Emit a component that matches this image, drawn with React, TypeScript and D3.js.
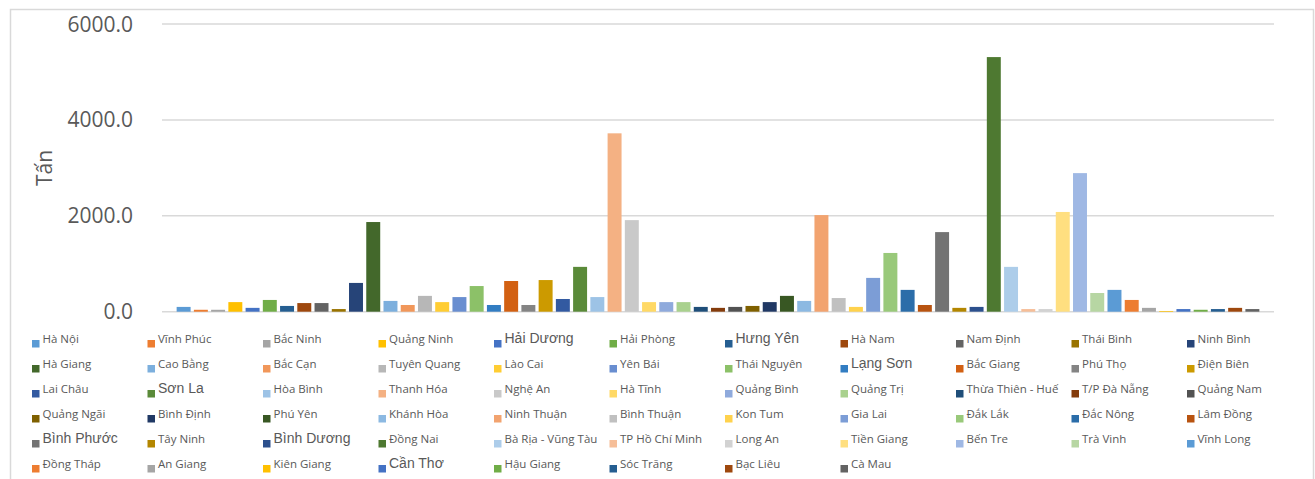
import React from "react";
import * as d3 from "d3";

const provinces: string[] = [
  "Hà Nội", "Vĩnh Phúc", "Bắc Ninh", "Quảng Ninh", "Hải Dương", "Hải Phòng", "Hưng Yên", "Hà Nam", "Nam Định", "Thái Bình", "Ninh Bình",
  "Hà Giang", "Cao Bằng", "Bắc Cạn", "Tuyên Quang", "Lào Cai", "Yên Bái", "Thái Nguyên", "Lạng Sơn", "Bắc Giang", "Phú Thọ", "Điện Biên",
  "Lai Châu", "Sơn La", "Hòa Bình", "Thanh Hóa", "Nghệ An", "Hà Tĩnh", "Quảng Bình", "Quảng Trị", "Thừa Thiên - Huế", "T/P Đà Nẵng", "Quảng Nam",
  "Quảng Ngãi", "Bình Định", "Phú Yên", "Khánh Hòa", "Ninh Thuận", "Bình Thuận", "Kon Tum", "Gia Lai", "Đắk Lắk", "Đắc Nông", "Lâm Đồng",
  "Bình Phước", "Tây Ninh", "Bình Dương", "Đồng Nai", "Bà Rịa - Vũng Tàu", "TP Hồ Chí Minh", "Long An", "Tiền Giang", "Bến Tre", "Trà Vinh", "Vĩnh Long",
  "Đồng Tháp", "An Giang", "Kiên Giang", "Cần Thơ", "Hậu Giang", "Sóc Trăng", "Bạc Liêu", "Cà Mau",
];

const values: number[] = [
  100, 40, 40, 200, 80, 245, 120, 180, 180, 55, 600,
  1870, 225, 140, 330, 200, 305, 535, 140, 640, 140, 660,
  265, 935, 305, 3720, 1910, 200, 200, 200, 100, 80, 100,
  120, 200, 330, 225, 2015, 285, 100, 705, 1225, 455, 140,
  1660, 80, 100, 5310, 935, 55, 55, 2080, 2890, 390, 455,
  245, 80, 15, 55, 40, 55, 80, 55,
];

const colors: string[] = [
  "#5B9BD5", "#ED7D31", "#A5A5A5", "#FFC000", "#4472C4", "#70AD47",
  "#255E91", "#9E480E", "#636363", "#997300", "#264478", "#43682B",
  "#7CAFDD", "#F1975A", "#B7B7B7", "#FFCD33", "#698ED0", "#8CC168",
  "#327DC2", "#D26012", "#848484", "#CC9A00", "#335AA1", "#5A8A39",
  "#9DC3E6", "#F4B183", "#C9C9C9", "#FFD966", "#8FAADC", "#A9D18E",
  "#1F4E79", "#843C0C", "#525252", "#7F6000", "#203864", "#385723",
  "#8CB9E2", "#F2A36F", "#C0C0C0", "#FFD24D", "#7C9DD6", "#99C97A",
  "#2B6DA9", "#B85310", "#737373", "#B38600", "#2C508D", "#4E7931",
  "#ADCDEA", "#F6BE98", "#D2D2D2", "#FFDF80", "#9FB8E4", "#B7D6A3",
  "#5B9BD5", "#ED7D31", "#A5A5A5", "#FFC000", "#4472C4", "#70AD47",
  "#255E91", "#9E480E", "#636363",
];

const largeLabels: string[] = ["Hải Dương", "Hưng Yên", "Lạng Sơn", "Sơn La", "Bình Phước", "Bình Dương", "Cần Thơ"];

const yTicks: number[] = [0, 2000, 4000, 6000];

export default function App() {
  const W = 1315;
  const H = 479;
  const plotL = 162;
  const plotR = 1274;
  const y = d3.scaleLinear().domain([0, 6000]).range([311.7, 24]);
  const x = d3
    .scaleBand<string>()
    .domain(provinces)
    .range([plotL + 13, plotR - 13])
    .paddingInner(0.19)
    .paddingOuter(0.095);

  const legendCols = 11;
  const legendX0 = 32;
  const legendDX = 115.5;
  const legendY0 = 342.7;
  const legendDY = 25;

  return (
    <svg width={W} height={H} style={{ position: "absolute", left: 0, top: 0 }} fontFamily="'Open Sans', sans-serif">
      <rect x={0} y={0} width={W} height={H} fill="#fff" />
      <rect x={10.5} y={9.5} width={1303} height={500} fill="none" stroke="#D9D9D9" strokeWidth={1.5} />
      {yTicks.map((t) => (
        <g key={t}>
          <line x1={plotL} x2={plotR} y1={y(t)} y2={y(t)} stroke="#D9D9D9" strokeWidth={1.5} />
          <text x={133} y={y(t)} dy="0.36em" textAnchor="end" fontSize={21} fill="#595959">
            {d3.format(".1f")(t)}
          </text>
        </g>
      ))}
      <text transform={`translate(52,168) rotate(-90)`} textAnchor="middle" fontSize={21} fill="#595959">
        Tấn
      </text>
      {provinces.map((p, i) => (
        <rect key={p} x={x(p)} y={y(values[i])} width={x.bandwidth()} height={y(0) - y(values[i])} fill={colors[i]} />
      ))}
      {provinces.map((p, i) => {
        const c = i % legendCols;
        const r = Math.floor(i / legendCols);
        const lx = legendX0 + c * legendDX;
        const ly = legendY0 + r * legendDY;
        const big = largeLabels.includes(p);
        return (
          <g key={"l" + p}>
            <rect x={lx} y={ly - 2.7} width={7.5} height={7.5} fill={colors[i]} />
            <text
              x={lx + 10.5}
              y={ly}
              fontSize={big ? 14 : 11.5}
              fontFamily={big ? "'Liberation Sans', Arial, sans-serif" : "'Open Sans', sans-serif"}
              fill="#595959"
            >
              {p}
            </text>
          </g>
        );
      })}
    </svg>
  );
}
